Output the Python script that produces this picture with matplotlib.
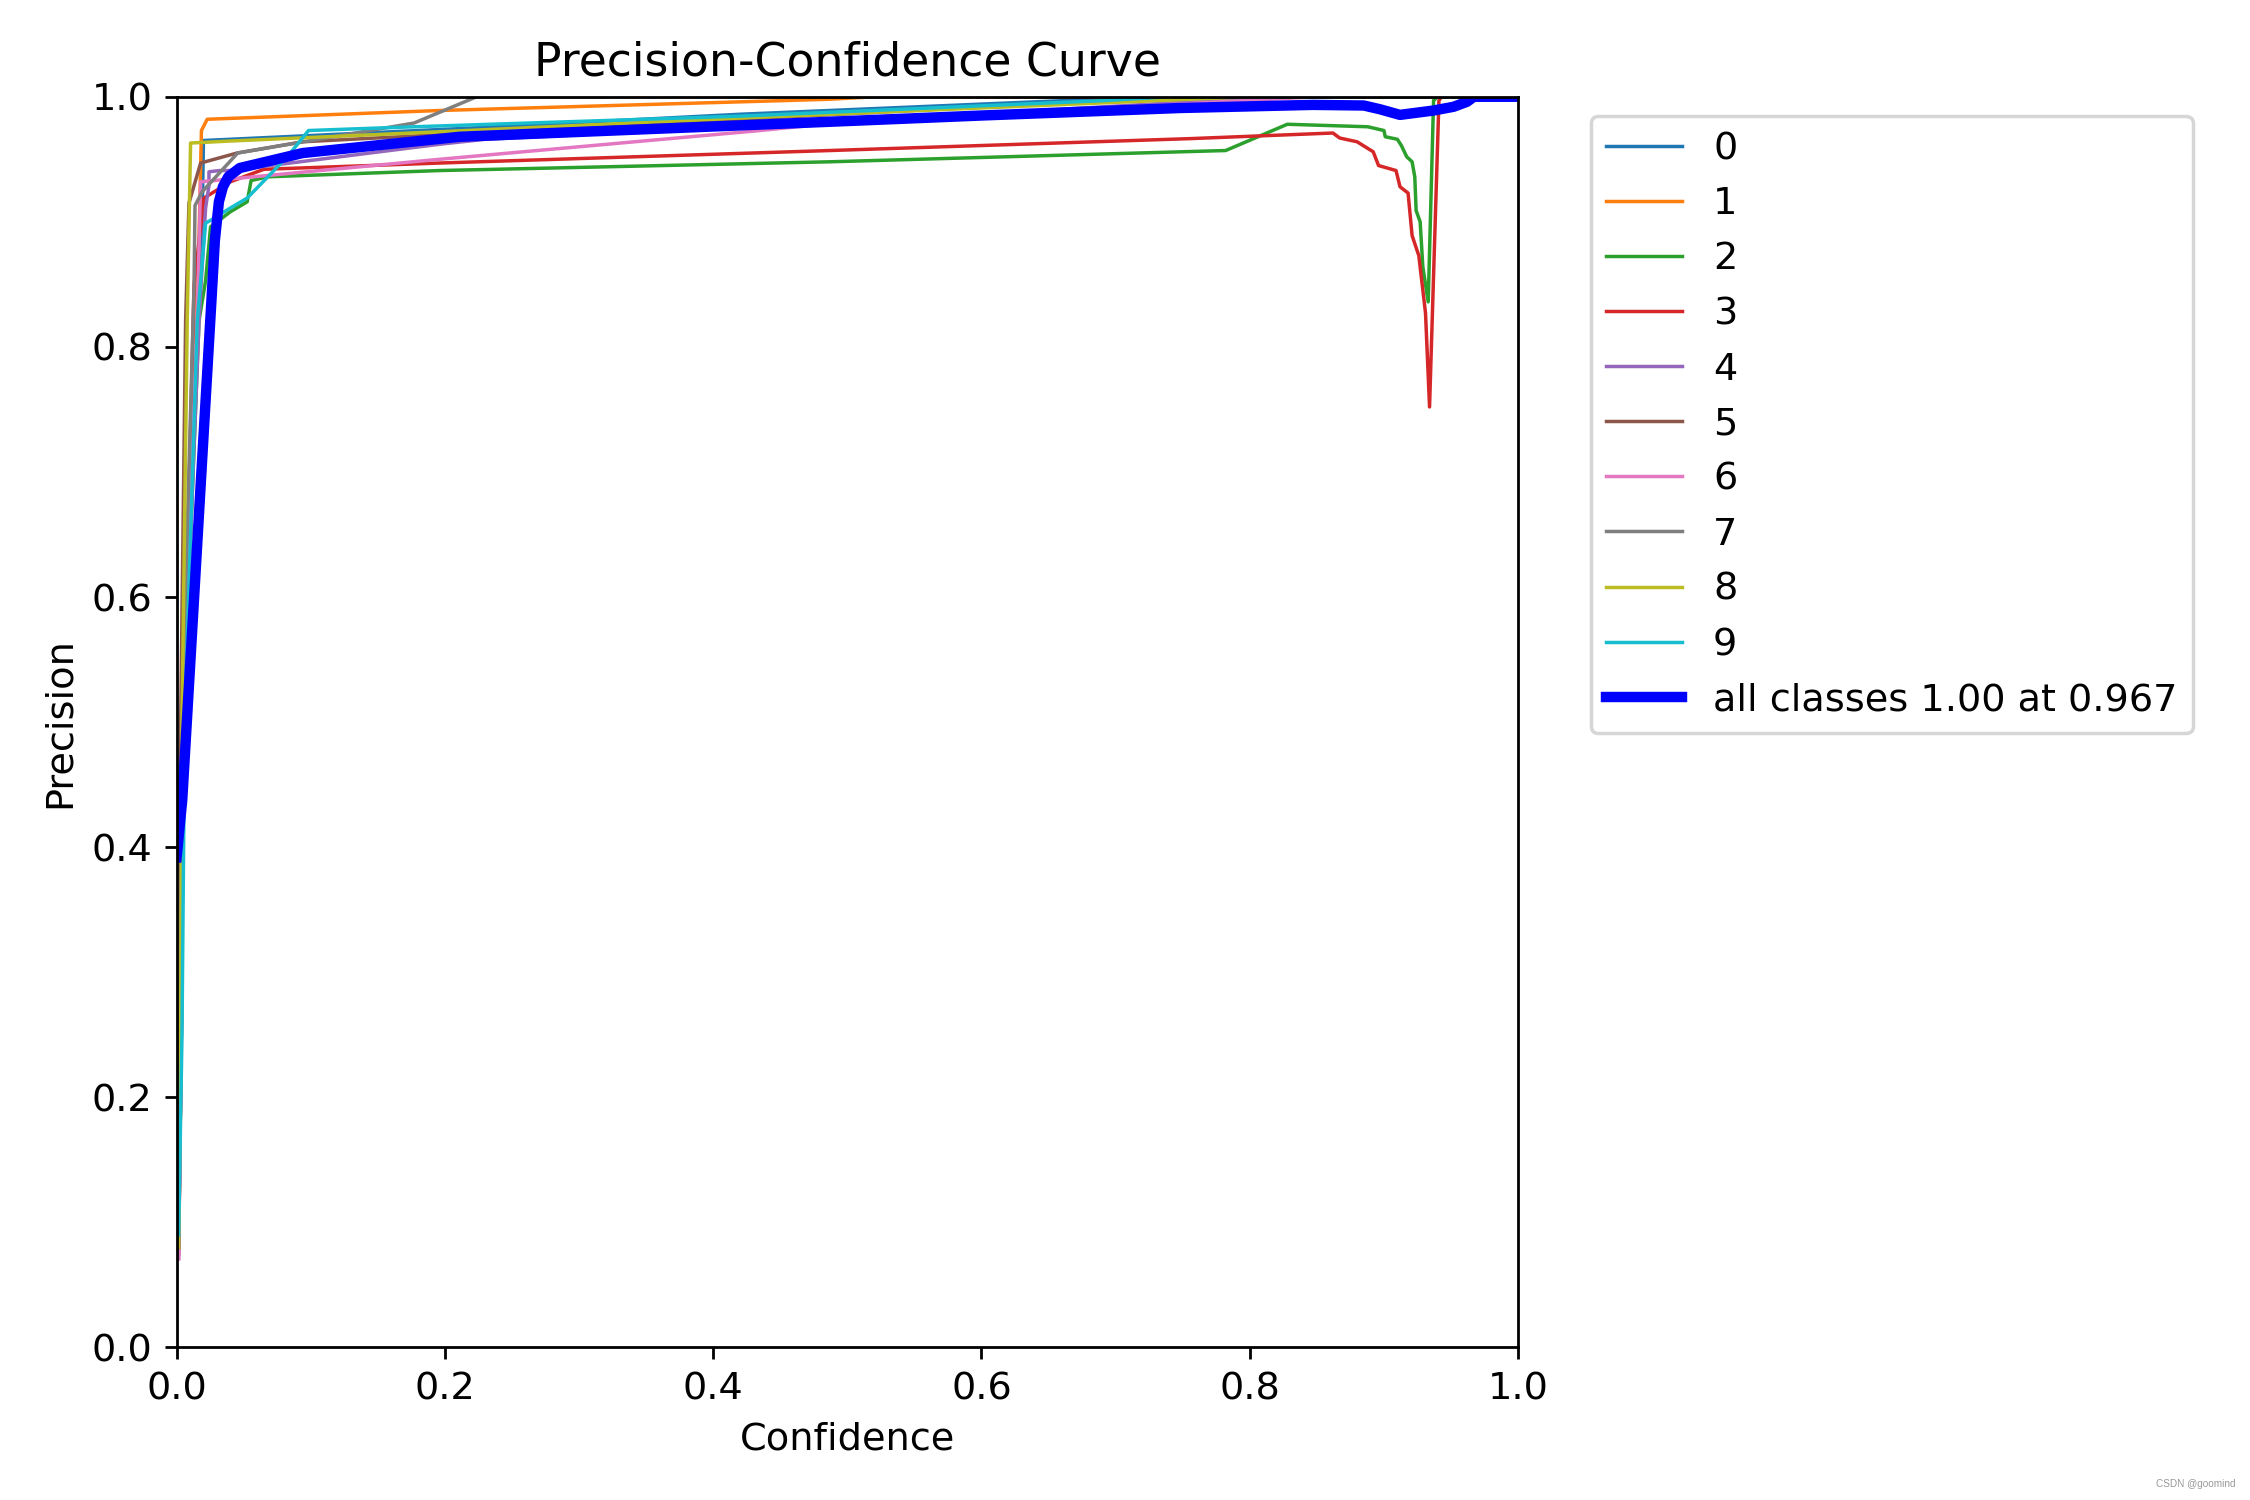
import matplotlib
matplotlib.use("Agg")
import matplotlib.pyplot as plt

plt.rcParams["font.size"] = 11

class_names = ["0", "1", "2", "3", "4", "5", "6", "7", "8", "9"]
class_colors = ["#1f77b4", "#ff7f0e", "#2ca02c", "#d62728", "#9467bd",
                "#8c564b", "#e377c2", "#7f7f7f", "#bcbd22", "#17becf"]

# confidence (x) / precision (y) key points
c0_x = [0.0015, 0.0035, 0.005, 0.014, 0.019, 0.020, 0.22, 0.42, 0.73, 1.0]
c0_y = [0.085, 0.25, 0.50, 0.82, 0.90, 0.965, 0.975, 0.986, 1.0, 1.0]

c1_x = [0.0015, 0.0035, 0.005, 0.015, 0.0166, 0.0185, 0.0228, 0.196, 0.487, 0.52, 1.0]
c1_y = [0.08, 0.25, 0.50, 0.85, 0.883, 0.973, 0.982, 0.989, 0.998, 1.0, 1.0]

c2_x = [0.0015, 0.0035, 0.005, 0.0167, 0.0216, 0.0253, 0.040, 0.0526, 0.0555, 0.068, 0.196,
        0.487, 0.782, 0.828, 0.888, 0.900, 0.901, 0.910, 0.913, 0.917, 0.921,
        0.923, 0.924, 0.927, 0.929, 0.933, 0.937, 0.94, 1.0]
c2_y = [0.08, 0.25, 0.50, 0.821, 0.853, 0.896, 0.908, 0.916, 0.933, 0.936, 0.941,
        0.948, 0.957, 0.978, 0.976, 0.973, 0.968, 0.966, 0.961, 0.952, 0.948,
        0.936, 0.909, 0.900, 0.864, 0.836, 0.997, 1.0, 1.0]

c3_x = [0.0015, 0.0035, 0.005, 0.013, 0.0204, 0.040, 0.065, 0.196, 0.487, 0.755, 0.862,
        0.867, 0.880, 0.892, 0.896, 0.909, 0.912, 0.918, 0.921, 0.926, 0.931,
        0.934, 0.941, 0.943, 1.0]
c3_y = [0.075, 0.25, 0.50, 0.85, 0.919, 0.932, 0.942, 0.947, 0.957, 0.9665, 0.971,
        0.967, 0.964, 0.956, 0.945, 0.941, 0.928, 0.923, 0.889, 0.873, 0.827,
        0.752, 0.997, 1.0, 1.0]

c4_x = [0.0015, 0.0035, 0.005, 0.0167, 0.0216, 0.0241, 0.0241, 0.032, 0.040, 0.196, 0.23, 0.5, 0.82, 1.0]
c4_y = [0.071, 0.25, 0.50, 0.821, 0.911, 0.929, 0.940, 0.941, 0.941, 0.962, 0.966, 0.980, 1.0, 1.0]

c5_x = [0.0015, 0.0025, 0.003, 0.0067, 0.0092, 0.0179, 0.045, 0.094, 0.42, 0.75, 1.0]
c5_y = [0.08, 0.25, 0.50, 0.821, 0.915, 0.947, 0.955, 0.964, 0.982, 1.0, 1.0]

c6_x = [0.0015, 0.0035, 0.005, 0.016, 0.0179, 0.196, 0.435, 0.50, 0.85, 1.0]
c6_y = [0.071, 0.25, 0.50, 0.85, 0.932, 0.950, 0.973, 0.980, 1.0, 1.0]

c7_x = [0.0015, 0.003, 0.004, 0.013, 0.0137, 0.019, 0.0455, 0.177, 0.2237, 1.0]
c7_y = [0.08, 0.25, 0.50, 0.85, 0.913, 0.924, 0.955, 0.979, 1.0, 1.0]

c8_x = [0.0015, 0.003, 0.004, 0.0079, 0.0104, 0.040, 0.196, 0.42, 0.80, 1.0]
c8_y = [0.08, 0.25, 0.50, 0.821, 0.963, 0.9646, 0.972, 0.983, 1.0, 1.0]

c9_x = [0.0015, 0.004, 0.006, 0.0154, 0.0216, 0.025, 0.040, 0.0526, 0.0825, 0.0983, 0.177,
        0.42, 0.693, 0.74, 1.0]
c9_y = [0.09, 0.25, 0.50, 0.821, 0.899, 0.901, 0.911, 0.919, 0.952, 0.973, 0.976,
        0.9845, 0.997, 1.0, 1.0]

all_x = [0.0, 0.0042, 0.0131, 0.026, 0.0285, 0.0315, 0.0345, 0.0385, 0.047, 0.094, 0.211, 0.487,
         0.6, 0.748, 0.847, 0.885, 0.897, 0.912, 0.937, 0.952, 0.962, 0.967, 1.0]
all_y = [0.392, 0.438, 0.601, 0.838, 0.885, 0.916, 0.928, 0.936, 0.943, 0.955, 0.968, 0.980,
         0.985, 0.991, 0.9935, 0.993, 0.990, 0.9855, 0.989, 0.992, 0.996, 1.0, 1.0]
all_label = "all classes 1.00 at 0.967"

class_x = [c0_x, c1_x, c2_x, c3_x, c4_x, c5_x, c6_x, c7_x, c8_x, c9_x]
class_y = [c0_y, c1_y, c2_y, c3_y, c4_y, c5_y, c6_y, c7_y, c8_y, c9_y]

fig, ax = plt.subplots(1, 1, figsize=(9, 6), dpi=250)
fig.subplots_adjust(left=0.0785, right=0.6747, top=0.9355, bottom=0.1017)

for name, col, xs, ys in zip(class_names, class_colors, class_x, class_y):
    ax.plot(xs, ys, linewidth=1, color=col, label=name)
ax.plot(all_x, all_y, linewidth=3, color="blue", label=all_label)

ax.set_xlabel("Confidence")
ax.set_ylabel("Precision")
ax.set_xlim(0, 1)
ax.set_ylim(0, 1)
ax.set_title("Precision-Confidence Curve")
ax.legend(bbox_to_anchor=(1.04, 1), loc="upper left")

fig.text(0.9935, 0.0107, "CSDN @goomind", fontsize=2.9, color="#999999",
         ha="right", va="center", family="Liberation Sans")

fig.savefig("out.png", dpi=250)
